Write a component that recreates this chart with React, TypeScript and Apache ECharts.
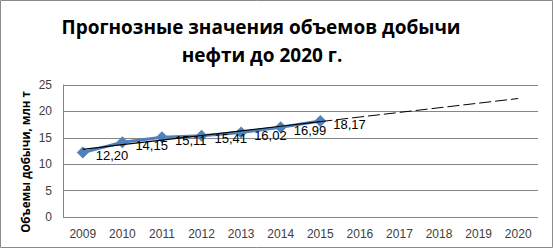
import React, { useEffect, useRef } from "react";
import * as echarts from "echarts";

const years = ["2009", "2010", "2011", "2012", "2013", "2014", "2015", "2016", "2017", "2018", "2019", "2020"];
const production = [12.2, 14.15, 15.11, 15.41, 16.02, 16.99, 18.17, null, null, null, null, null];
const trendSolid = [12.81, 13.69, 14.56, 15.44, 16.31, 17.19, 18.06, null, null, null, null, null];
const trendDashed = [null, null, null, null, null, null, 18.06, 18.94, 19.81, 20.69, 21.56, 22.44];
const titleLines = ["Прогнозные значения объемов добычи", "нефти до 2020 г."];
const yAxisName = "Объемы добычи, млн т";

export default function App() {
  const ref = useRef<HTMLDivElement>(null);
  useEffect(() => {
    if (!ref.current) return;
    const chart = echarts.init(ref.current, undefined, { renderer: "svg" });
    chart.setOption({
      animation: false,
      backgroundColor: "#ffffff",
      graphic: [
        {
          type: "rect",
          shape: { x: 0.5, y: 0.5, width: 552, height: 247 },
          style: { fill: "none", stroke: "#8a8a8a", lineWidth: 1 },
          silent: true,
        },
        {
          type: "text",
          x: 261,
          y: 27,
          style: {
            text: titleLines[0],
            font: "bold 19px 'Open Sans'",
            fill: "#000",
            align: "center",
            verticalAlign: "middle",
          },
        },
        {
          type: "text",
          x: 262,
          y: 55,
          style: {
            text: titleLines[1],
            font: "bold 19px 'Open Sans'",
            fill: "#000",
            align: "center",
            verticalAlign: "middle",
          },
        },
        {
          type: "text",
          x: 25,
          y: 162,
          rotation: Math.PI / 2,
          style: {
            text: yAxisName,
            font: "bold 11.5px 'Open Sans'",
            fill: "#000",
            align: "center",
            verticalAlign: "middle",
          },
        },
      ],
      grid: { left: 63, right: 16, top: 85, bottom: 35 },
      xAxis: {
        type: "category",
        data: years,
        boundaryGap: true,
        axisLine: { show: false },
        axisTick: { show: false },
        axisLabel: { color: "#404040", fontSize: 12, fontFamily: "Liberation Sans", margin: 11 },
      },
      yAxis: {
        type: "value",
        min: 0,
        max: 25,
        interval: 5,
        axisLine: { show: true, lineStyle: { color: "#868686", width: 1 } },
        axisTick: { show: false },
        axisLabel: { color: "#404040", fontSize: 12, fontFamily: "Liberation Sans", margin: 11 },
        splitLine: { show: true, lineStyle: { color: "#868686", width: 1 } },
      },
      series: [
        {
          type: "line",
          data: trendSolid,
          symbol: "none",
          lineStyle: { color: "#000", width: 1.2 },
          z: 3,
        },
        {
          type: "line",
          data: trendDashed,
          symbol: "none",
          lineStyle: { color: "#000", width: 1, type: [12, 4] },
          z: 3,
        },
        {
          type: "line",
          data: production,
          symbol: "diamond",
          symbolSize: 12,
          itemStyle: { color: "#4F81BD" },
          lineStyle: { color: "#4F81BD", width: 3 },
          z: 2,
          label: {
            show: true,
            position: "right",
            offset: [2, 3],
            color: "#000",
            fontSize: 13,
            fontFamily: "Liberation Sans",
            formatter: (p: any) => p.value == null ? "" : Number(p.value).toFixed(2).replace(".", ","),
          },
        },
      ],
    });
    return () => chart.dispose();
  }, []);
  return (
    <div
      ref={ref}
      style={{ position: "fixed", left: 0, top: 0, width: 554, height: 252 }}
    />
  );
}
